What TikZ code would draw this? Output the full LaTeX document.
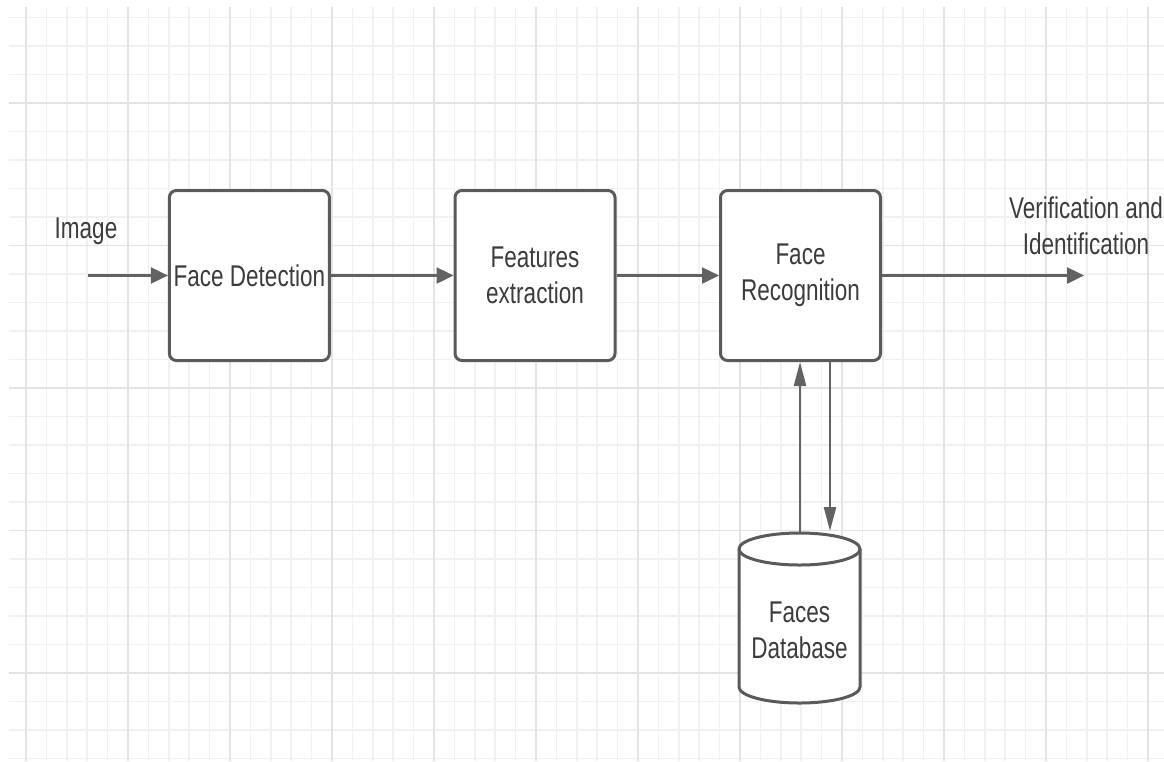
\documentclass[tikz,border=0pt]{standalone}
\usepackage{fontspec}
\setmainfont[FakeStretch=0.75]{Liberation Sans}
\usetikzlibrary{arrows.meta}
\definecolor{gridminor}{HTML}{F1F1F1}
\definecolor{gridmajor}{HTML}{E3E3E3}
\definecolor{edge}{HTML}{5A5A5A}
\definecolor{arrowc}{HTML}{626262}
\definecolor{txt}{HTML}{3C3C3C}
\begin{document}
\begin{tikzpicture}[x=1pt,y=-1pt,
  stepbox/.style={draw=edge,line width=3pt,rounded corners=7pt,fill=white,
    minimum width=160pt,minimum height=170pt,inner sep=0pt,align=center,
    text=txt,font=\fontsize{30}{36}\selectfont},
  lbl/.style={text=txt,align=center,inner sep=0pt,font=\fontsize{30}{36}\selectfont},
  harr/.style={draw=arrowc,line width=2.5pt,-{Triangle[length=17pt,width=16pt]}},
  varr/.style={draw=arrowc,line width=2.5pt,-{Triangle[length=24pt,width=12pt]}},
  gmin/.style={draw=gridminor,line width=1.6pt},
  gmaj/.style={draw=gridmajor,line width=1.8pt}]
\useasboundingbox (0,0) rectangle (1164,761);
\fill[white] (0,0) rectangle (1164,761);
% grid
\foreach \i in {0,...,55} \draw[gmin] ({26+20.4*\i},7) -- ({26+20.4*\i},761);
\foreach \j in {0,...,26} \draw[gmin] (9,{17.5+28.5*\j}) -- (1164,{17.5+28.5*\j});
\foreach \i in {0,...,11} \draw[gmaj] ({26+102*\i},7) -- ({26+102*\i},761);
\foreach \j in {0,...,4} \draw[gmaj] (9,{103+142.5*\j}) -- (1164,{103+142.5*\j});
% boxes
\node[stepbox] (fd) at (249.4,275.5) {Face Detection};
\node[stepbox] (fe) at (535,275.5) {Features\\extraction};
\node[stepbox] (fr) at (800.5,275.5) {Face\\Recognition};
% database cylinder
\filldraw[draw=edge,fill=white,line width=3pt] (739,549) -- (739,687)
  arc[start angle=180,end angle=0,x radius=60.5,y radius=16] -- (860,549)
  arc[start angle=0,end angle=-180,x radius=60.5,y radius=16] -- cycle;
\draw[draw=edge,line width=3pt] (739,549) arc[start angle=180,end angle=0,x radius=60.5,y radius=16];
\node[lbl] (db) at (799.5,630) {Faces\\Database};
% labels
\node[lbl] (img) at (86,231) {Image};
\node[lbl] (out) at (1086,226) {Verification and\\Identification};
% connector ends
\coordinate (inp) at (88,275.5);
\coordinate (outp) at (1084,275.5);
\coordinate (dbup) at (800,533);
\coordinate (dbdn) at (830,531);
% connectors
\draw[harr] (inp) -- (fd.west);
\draw[harr] (fd.east) -- (fe.west);
\draw[harr] (fe.east) -- (fr.west);
\draw[harr] (fr.east) -- (outp);
\draw[varr] (dbup) -- (dbup |- fr.south);
\draw[varr] (dbdn |- fr.south) -- (dbdn);
\end{tikzpicture}
\end{document}
